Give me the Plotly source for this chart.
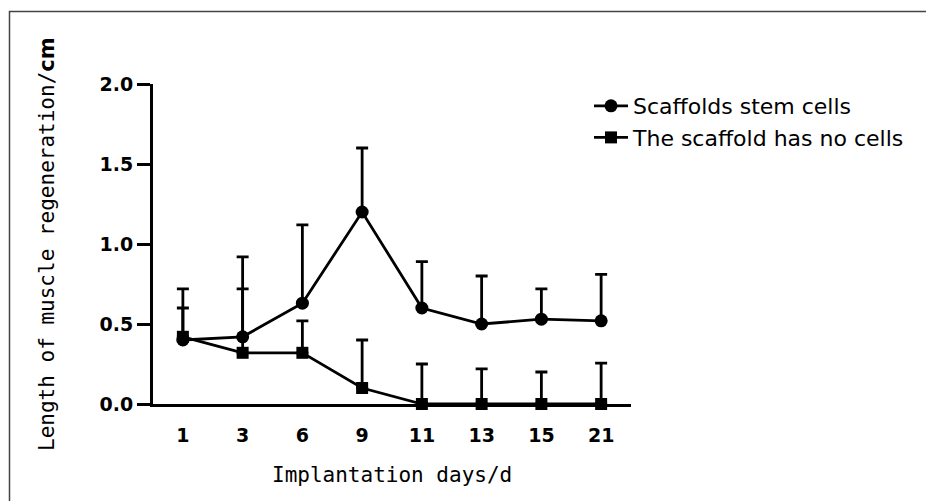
import plotly.graph_objects as go

days = ["1", "3", "6", "9", "11", "13", "15", "21"]
stem_mean = [0.40, 0.42, 0.63, 1.20, 0.60, 0.50, 0.53, 0.52]
stem_err = [0.32, 0.50, 0.49, 0.40, 0.29, 0.30, 0.19, 0.29]
nocell_mean = [0.42, 0.32, 0.32, 0.10, 0.0, 0.0, 0.0, 0.0]
nocell_err = [0.18, 0.40, 0.20, 0.30, 0.25, 0.22, 0.20, 0.255]
y_ticks = [0.0, 0.5, 1.0, 1.5, 2.0]
y_ticklabels = ["0.0", "0.5", "1.0", "1.5", "2.0"]

L, R, T, B = 153, 295, 84, 97
W, H = 926, 501
pw, ph = W - L - R, H - T - B

def px(x):
    return (x - L) / pw

def py(y):
    return (H - B - y) / ph

fig = go.Figure()
fig.add_trace(go.Scatter(
    x=days, y=stem_mean, name="Scaffolds stem cells", mode="lines+markers",
    line=dict(color="black", width=2.8),
    marker=dict(symbol="circle", size=13, color="black"),
    error_y=dict(type="data", symmetric=False, array=stem_err, arrayminus=[0]*8,
                 color="black", thickness=2.8, width=6),
    cliponaxis=False,
))
fig.add_trace(go.Scatter(
    x=days, y=nocell_mean, name="The scaffold has no cells", mode="lines+markers",
    line=dict(color="black", width=2.8),
    marker=dict(symbol="square", size=12, color="black"),
    error_y=dict(type="data", symmetric=False, array=nocell_err, arrayminus=[0]*8,
                 color="black", thickness=2.8, width=6),
    cliponaxis=False,
))

fig.update_layout(
    width=W, height=H,
    margin=dict(l=L, r=R, t=T, b=B),
    paper_bgcolor="white", plot_bgcolor="white",
    showlegend=True,
    legend=dict(x=px(589), y=py(85), xanchor="left", yanchor="top",
                itemwidth=34,
                font=dict(family="DejaVu Sans", size=22, color="black"),
                bgcolor="rgba(0,0,0,0)", borderwidth=0),
    xaxis=dict(type="category", range=[-0.5, 7.5], showgrid=False, zeroline=False,
               showline=True, linecolor="black", linewidth=3, ticks="",
               tickfont=dict(family="DejaVu Sans", size=19, color="black", weight="bold"),
               ticklabelstandoff=12),
    yaxis=dict(range=[0, 2], showgrid=False, zeroline=False, showline=True,
               linecolor="black", linewidth=3, ticks="outside", ticklen=13,
               tickwidth=3, tickcolor="black",
               tickvals=y_ticks, ticktext=y_ticklabels,
               tickfont=dict(family="DejaVu Sans", size=19, color="black", weight="bold")),
    annotations=[
        dict(text="Implantation days/d", xref="paper", yref="paper",
             x=px(392), y=py(475), xanchor="center", yanchor="middle",
             showarrow=False, font=dict(family="DejaVu Sans Mono", size=21, color="black")),
        dict(text="Length of muscle regeneration/<span style='font-family:DejaVu Sans;font-weight:bold'>cm</span>",
             xref="paper", yref="paper", x=px(47), y=py(244), textangle=-90,
             xanchor="center", yanchor="middle", showarrow=False,
             font=dict(family="DejaVu Sans Mono", size=21, color="black")),
    ],
    shapes=[
        dict(type="path", xref="paper", yref="paper",
             path=f"M {px(9.5)},{py(501)} L {px(9.5)},{py(11.5)} L {px(926)},{py(11.5)}",
             line=dict(color="#444444", width=1.5)),
    ],
)

fig.write_html("out.html", config={"displayModeBar": False},
               post_script="document.body.style.margin='0';document.body.style.overflow='hidden';")
